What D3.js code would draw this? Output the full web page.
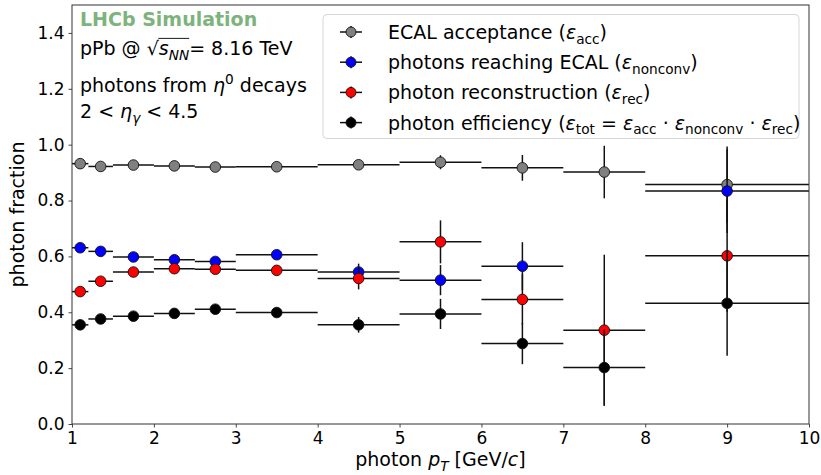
<!DOCTYPE html>
<html>
<head>
<meta charset="utf-8">
<script src="https://cdn.jsdelivr.net/npm/d3@7"></script>
<style>
  body { margin: 0; background: #fff; }
  text { font-family: "DejaVu Sans", sans-serif; }
</style>
</head>
<body>
<svg id="chart" width="821" height="475"></svg>
<script>
// pT binning (GeV/c)
const binLow    = [1.0, 1.2, 1.5, 2.0, 2.5, 3.0, 4.0, 5.0, 6.0, 7.0, 8.0];
const binHigh   = [1.2, 1.5, 2.0, 2.5, 3.0, 4.0, 5.0, 6.0, 7.0, 8.0, 10.0];
const binCenter = [1.1, 1.35, 1.75, 2.25, 2.75, 3.5, 4.5, 5.5, 6.5, 7.5, 9.0];

// ECAL acceptance
const accValues   = [0.932, 0.922, 0.927, 0.924, 0.920, 0.921, 0.928, 0.937, 0.917, 0.902, 0.857];
const accErrors   = [0.004, 0.004, 0.004, 0.004, 0.005, 0.005, 0.012, 0.025, 0.046, 0.094, 0.136];
// photons reaching ECAL (no conversion)
const nonconvValues = [0.631, 0.618, 0.598, 0.588, 0.582, 0.606, 0.544, 0.515, 0.565, null, 0.834];
const nonconvErrors = [0.005, 0.005, 0.006, 0.007, 0.008, 0.008, 0.030, 0.054, 0.086, null, 0.150];
// photon reconstruction
const recValues   = [0.474, 0.511, 0.544, 0.556, 0.554, 0.550, 0.521, 0.652, 0.446, 0.336, 0.602];
const recErrors   = [0.005, 0.006, 0.007, 0.008, 0.009, 0.010, 0.039, 0.077, 0.090, 0.270, 0.200];
// total photon efficiency
const totValues   = [0.355, 0.376, 0.386, 0.396, 0.411, 0.399, 0.355, 0.394, 0.288, 0.202, 0.432];
const totErrors   = [0.004, 0.005, 0.006, 0.007, 0.008, 0.008, 0.028, 0.054, 0.074, 0.137, 0.188];

const xTicks = [1, 2, 3, 4, 5, 6, 7, 8, 9, 10];
const yTicks = [0.0, 0.2, 0.4, 0.6, 0.8, 1.0, 1.2, 1.4];

const seriesColors = ["#808080", "#0000ff", "#ff0000", "#000000"];

const W = 821, H = 475;
const margin = { left: 72, right: 12, top: 5, bottom: 51 };
const svg = d3.select("#chart");

const x = d3.scaleLinear().domain([1, 10]).range([margin.left, W - margin.right]);
const y = d3.scaleLinear().domain([0, 1.5]).range([H - margin.bottom, margin.top]);

const FS_TICK = 17;
const FS = 19;
const frameColor = "#333";

// axes
const xAxis = svg.append("g")
  .attr("transform", `translate(0,${H - margin.bottom})`)
  .call(d3.axisBottom(x).tickValues(xTicks).tickFormat(d3.format("d")).tickSizeOuter(0).tickSize(3.5).tickPadding(4));
const yAxis = svg.append("g")
  .attr("transform", `translate(${margin.left},0)`)
  .call(d3.axisLeft(y).tickValues(yTicks).tickFormat(d3.format(".1f")).tickSizeOuter(0).tickSize(3.5).tickPadding(4));
[xAxis, yAxis].forEach(g => {
  g.select(".domain").remove();
  g.selectAll(".tick line").attr("stroke", frameColor).attr("stroke-width", 0.9);
  g.selectAll(".tick text").attr("fill", "#000").style("font-size", FS_TICK + "px")
    .style("font-family", "'DejaVu Sans', sans-serif");
});

// data series, drawn in order: bars then markers
const series = [
  { values: accValues, errors: accErrors },
  { values: nonconvValues, errors: nonconvErrors },
  { values: recValues, errors: recErrors },
  { values: totValues, errors: totErrors }
];

const plot = svg.append("g");
series.forEach((s, si) => {
  const pts = binCenter.map((c, i) => ({ c, lo: binLow[i], hi: binHigh[i], v: s.values[i], e: s.errors[i] }))
    .filter(d => d.v !== null);
  const g = plot.append("g");
  g.selectAll("line.h").data(pts).join("line").attr("class", "h")
    .attr("x1", d => x(d.lo)).attr("x2", d => x(d.hi))
    .attr("y1", d => y(d.v)).attr("y2", d => y(d.v))
    .attr("stroke", "#111").attr("stroke-width", 1.5);
  g.selectAll("line.v").data(pts).join("line").attr("class", "v")
    .attr("x1", d => x(d.c)).attr("x2", d => x(d.c))
    .attr("y1", d => y(d.v - d.e)).attr("y2", d => y(d.v + d.e))
    .attr("stroke", "#111").attr("stroke-width", 1.5);
  g.selectAll("circle").data(pts).join("circle")
    .attr("cx", d => x(d.c)).attr("cy", d => y(d.v)).attr("r", 5.3)
    .attr("fill", seriesColors[si]).attr("stroke", "#111").attr("stroke-width", 0.9);
});

// frame
svg.append("rect")
  .attr("x", margin.left).attr("y", margin.top)
  .attr("width", W - margin.left - margin.right).attr("height", H - margin.top - margin.bottom)
  .attr("fill", "none").attr("stroke", frameColor).attr("stroke-width", 1);

// rich text helper: segments with italic / sub / sup
function richText(parent, xPos, yPos, segs, size) {
  const t = parent.append("text").attr("x", xPos).attr("y", yPos).style("font-size", size + "px").attr("fill", "#000");
  let shift = 0;
  segs.forEach(s => {
    const target = s.sub ? size * 0.24 : s.sup ? -size * 0.4 : 0;
    const ts = t.append("tspan").text(s.t);
    if (target !== shift) ts.attr("dy", target - shift);
    shift = target;
    if (s.sub || s.sup) ts.style("font-size", (size * 0.72) + "px");
    if (s.it) ts.style("font-style", "italic");
  });
  return t;
}

// annotation block
svg.append("text").attr("x", 80).attr("y", 26).text("LHCb Simulation")
  .style("font-size", FS + "px").style("font-weight", "bold").attr("fill", "#7db37d");

const energy = richText(svg, 80, 55, [
  { t: "pPb @ " }, { t: "√" }, { t: "s", it: true }, { t: "NN", it: true, sub: true }, { t: "= 8.16 TeV" }
], FS);
// overline of the square root
{
  const n = energy.node();
  const rootBox = n.getExtentOfChar(6);
  const endBox = n.getExtentOfChar(9);
  svg.append("line")
    .attr("x1", rootBox.x + rootBox.width - 0.5).attr("x2", endBox.x + endBox.width)
    .attr("y1", rootBox.y + 1.4).attr("y2", rootBox.y + 1.4)
    .attr("stroke", "#000").attr("stroke-width", 0.9);
}

richText(svg, 80, 92, [{ t: "photons from " }, { t: "η", it: true }, { t: "0", sup: true }, { t: " decays" }], FS);
richText(svg, 80, 118, [{ t: "2 < " }, { t: "η", it: true }, { t: "γ", it: true, sub: true }, { t: " < 4.5" }], FS);

// legend
const legend = svg.append("g");
legend.append("rect").attr("x", 323).attr("y", 14.5).attr("width", 476).attr("height", 124).attr("rx", 4)
  .attr("fill", "#fff").attr("fill-opacity", 0.85).attr("stroke", "#d6d6d6").attr("stroke-width", 1);

const legendRows = [
  [{ t: "ECAL acceptance (" }, { t: "ε", it: true }, { t: "acc", sub: true }, { t: ")" }],
  [{ t: "photons reaching ECAL (" }, { t: "ε", it: true }, { t: "nonconv", sub: true }, { t: ")" }],
  [{ t: "photon reconstruction (" }, { t: "ε", it: true }, { t: "rec", sub: true }, { t: ")" }],
  [{ t: "photon efficiency (" }, { t: "ε", it: true }, { t: "tot", sub: true }, { t: " = " }, { t: "ε", it: true }, { t: "acc", sub: true },
   { t: " · " }, { t: "ε", it: true }, { t: "nonconv", sub: true }, { t: " · " }, { t: "ε", it: true }, { t: "rec", sub: true }, { t: ")" }]
];
legendRows.forEach((segs, i) => {
  const cy = 32 + i * 30.2;
  const mx = 351;
  legend.append("line").attr("x1", mx - 11).attr("x2", mx + 11).attr("y1", cy).attr("y2", cy)
    .attr("stroke", "#111").attr("stroke-width", 1.5);
  legend.append("line").attr("x1", mx).attr("x2", mx).attr("y1", cy - 6).attr("y2", cy + 6)
    .attr("stroke", "#111").attr("stroke-width", 1.5);
  legend.append("circle").attr("cx", mx).attr("cy", cy).attr("r", 5)
    .attr("fill", seriesColors[i]).attr("stroke", "#111").attr("stroke-width", 0.9);
  richText(legend, 388, cy + 7, segs, FS);
});

// axis titles
svg.append("text").attr("transform", `translate(24,${(margin.top + H - margin.bottom) / 2}) rotate(-90)`)
  .attr("text-anchor", "middle").style("font-size", FS + "px").text("photon fraction");
richText(svg, 0, 466, [{ t: "photon " }, { t: "p", it: true }, { t: "T", it: true, sub: true }, { t: " [GeV/" }, { t: "c", it: true }, { t: "]" }], FS)
  .attr("text-anchor", "middle").attr("x", (margin.left + W - margin.right) / 2);
</script>
</body>
</html>
